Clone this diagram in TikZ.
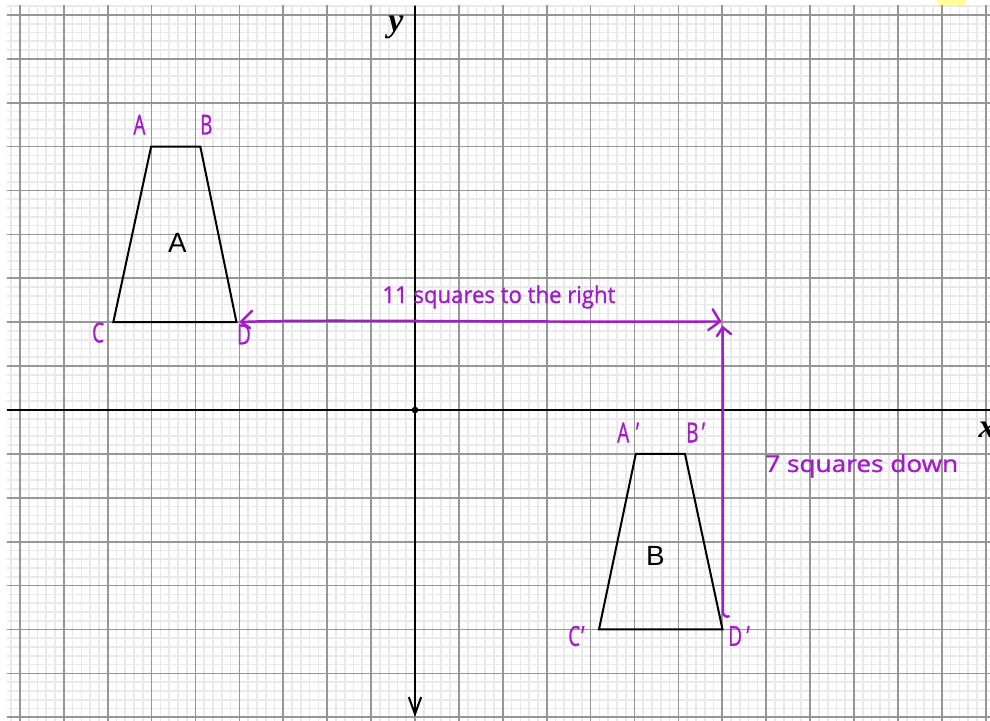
\documentclass[tikz,border=0pt]{standalone}
\usepackage{fontspec}
\usepackage{graphicx}
\setmainfont{Liberation Serif}
\newfontfamily\handfont[FakeBold=1.2]{Open Sans}
\newfontfamily\plainsans{Liberation Sans}
\usetikzlibrary{arrows.meta}
\definecolor{handpurple}{RGB}{163,28,201}
\definecolor{majorgray}{RGB}{150,150,150}
\definecolor{minorgray}{RGB}{233,233,233}
\definecolor{noteyellow}{RGB}{255,255,150}
\newcommand\narrowtxt[1]{\scalebox{0.72}[1.05]{#1}}
\tikzset{
  minorline/.style={minorgray, line width=1.1pt},
  majorline/.style={majorgray, line width=1.1pt},
  axisline/.style={black, line width=1.5pt},
  shapeline/.style={black, line width=1.3pt, line join=miter},
  handline/.style={handpurple, line width=1.6pt, line cap=round, line join=round},
  handlabel/.style={text=handpurple, font=\handfont\fontsize{17}{17}\selectfont, inner sep=0pt, anchor=west},
  handtext/.style={text=handpurple, font=\handfont\fontsize{15}{15}\selectfont, inner sep=0pt, anchor=base},
  shapename/.style={font=\plainsans\fontsize{18}{18}\selectfont, inner sep=0pt},
  axisname/.style={font=\bfseries\itshape\fontsize{22}{22}\selectfont, inner sep=0pt},
}
\begin{document}
\begin{tikzpicture}[x=1cm,y=1cm]
\useasboundingbox (-9.453,-7.062) rectangle (13.098,9.339);
% note mark at top
\fill[noteyellow, rounded corners=0.14cm] (11.891,9.18) rectangle (12.551,9.50);
% grid
\begin{scope}
\clip (-9.294,-7.2) rectangle (13.2,9.203);
\draw[minorline] (-9.6,-7.4) grid[step=0.2] (13.4,9.6);
\draw[majorline] (-9.6,-7.4) grid[step=1] (13.4,9.6);
\end{scope}
% axes
\coordinate (O) at (0,0);
\coordinate (xL) at (-9.294,0);
\coordinate (xR) at (13.2,0);
\coordinate (yT) at (0,9.203);
\coordinate (yB) at (0,-6.993);
\draw[axisline] (xL) -- (xR);
\draw[axisline, -{Straight Barb[length=11pt,width=8pt,line width=1.3pt]}] (yT) -- (yB);
\fill (O) circle (0.075);
\node[axisname] (ylab) at (-0.433,8.724) {y};
\node[axisname] (xlab) at (13.03,-0.456) {x};
% shape A
\coordinate (A) at (-6.01,6);
\coordinate (B) at (-4.89,6);
\coordinate (C) at (-6.872,2);
\coordinate (D) at (-4.066,2);
\draw[shapeline] (A) -- (B) -- (D) -- (C) -- cycle;
\node[shapename] (nameA) at (-5.410,3.804) {A};
% shape B
\coordinate (A2) at (5.03,-1);
\coordinate (B2) at (6.15,-1);
\coordinate (C2) at (4.191,-5);
\coordinate (D2) at (7.005,-5);
\draw[shapeline] (A2) -- (B2) -- (D2) -- (C2) -- cycle;
\node[shapename] (nameB) at (5.478,-3.326) {B};
% vertex labels
\node[handlabel] (lA) at (-6.42,6.50) {\narrowtxt{A}};
\node[handlabel] (lB) at (-4.90,6.50) {\narrowtxt{B}};
\node[handlabel] (lC) at (-7.36,1.765) {\narrowtxt{C}};
\node[handlabel] (lD) at (-4.06,1.720) {\narrowtxt{D}};
\node[handlabel] (lA2) at (4.601,-0.513) {\narrowtxt{A\hspace{6pt}’}};
\node[handlabel] (lB2) at (6.173,-0.513) {\narrowtxt{B\hspace{3pt}’}};
\node[handlabel] (lC2) at (3.485,-5.148) {\narrowtxt{C\hspace{1pt}’}};
\node[handlabel] (lD2) at (7.130,-5.148) {\narrowtxt{D\hspace{4pt}’}};
% horizontal translation arrow
\coordinate (hL) at (-3.964,2.005);
\coordinate (hR) at (6.948,2.016);
\coordinate (lU) at (-3.713,2.255);
\coordinate (lDn) at (-3.759,1.868);
\coordinate (rU) at (6.781,2.294);
\coordinate (rDn) at (6.681,1.822);
\draw[handline] (hL) .. controls (-2.2,2.07) and (0.5,2.0) .. (hR);
\draw[handline] (lU) -- (hL) -- (lDn);
\draw[handline] (rU) -- (hR) -- (rDn);
\node[handtext] (htxt) at (1.911,2.437) {\resizebox{151pt}{\height}{11 squares to the right}};
% vertical translation arrow
\coordinate (vT) at (7.010,1.880);
\coordinate (vB) at (7.016,-4.62);
\coordinate (vH) at (7.15,-4.70);
\coordinate (uL) at (6.879,1.686);
\coordinate (uR) at (7.198,1.731);
\draw[handline] (vT) -- (vB) to[out=-85,in=210] (vH);
\draw[handline] (uL) -- (vT) -- (uR);
\node[handtext] (vtxt) at (10.175,-1.412) {\resizebox{125pt}{\height}{7 squares down}};
\end{tikzpicture}
\end{document}
